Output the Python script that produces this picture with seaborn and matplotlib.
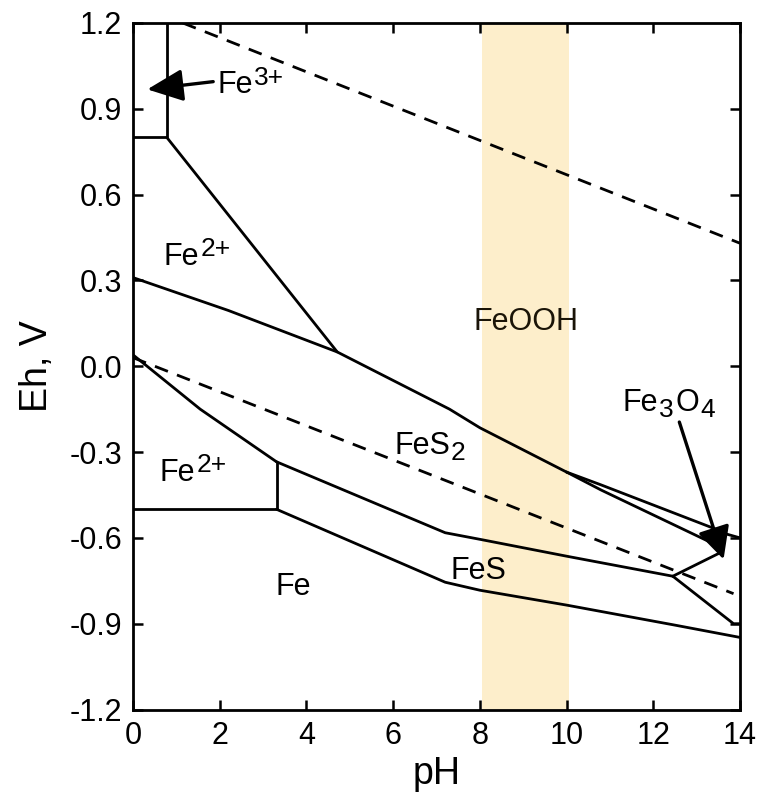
import matplotlib
matplotlib.use("Agg")
import matplotlib.pyplot as plt
import seaborn as sns
import pandas as pd

# ---------------- data (pH, Eh in V) ----------------
fe3_box_ph = [0.0, 0.78, 0.78]
fe3_box_eh = [0.80, 0.80, 1.20]

fe2_feooh_ph = [0.78, 4.71]
fe2_feooh_eh = [0.80, 0.05]

fes2_upper_ph = [0.0, 2.2, 4.71, 7.3, 8.0, 10.0]
fes2_upper_eh = [0.31, 0.195, 0.05, -0.15, -0.215, -0.37]

feooh_fe3o4_ph = [10.0, 10.8, 13.4, 13.65, 14.0]
feooh_fe3o4_eh = [-0.37, -0.415, -0.567, -0.585, -0.60]

fe3o4_fes2_ph = [10.0, 10.8, 13.3, 13.55]
fe3o4_fes2_eh = [-0.37, -0.433, -0.614, -0.632]

fe2_fes2_ph = [0.0, 1.55, 3.31]
fe2_fes2_eh = [0.04, -0.15, -0.334]

fe2_fe_vert_ph = [3.31, 3.31]
fe2_fe_vert_eh = [-0.334, -0.50]

fe2_fe_ph = [0.0, 3.31]
fe2_fe_eh = [-0.50, -0.50]

fes2_fes_ph = [3.31, 7.2, 8.0, 10.0, 12.45]
fes2_fes_eh = [-0.334, -0.582, -0.605, -0.664, -0.734]

fes_fe3o4_ph = [12.45, 13.5]
fes_fe3o4_eh = [-0.734, -0.655]

fes_fe_right_ph = [12.45, 13.85, 14.0]
fes_fe_right_eh = [-0.734, -0.90, -0.90]

fe_fes_ph = [3.31, 7.2, 8.0, 10.0, 12.5, 14.0]
fe_fes_eh = [-0.50, -0.755, -0.783, -0.835, -0.905, -0.948]

water_low_ph = [0.0, 13.85]
water_low_eh = [0.03, -0.795]
water_high_ph = [1.15, 14.0]
water_high_eh = [1.20, 0.43]

band_ph = [8.05, 10.05]

x_ticks = [0, 2, 4, 6, 8, 10, 12, 14]
y_ticks = [-1.2, -0.9, -0.6, -0.3, 0.0, 0.3, 0.6, 0.9, 1.2]
y_ticklabels = ["-1.2", "-0.9", "-0.6", "-0.3", "0.0", "0.3", "0.6", "0.9", "1.2"]

# label: (base text, script text, script kind, pH of left edge, Eh of baseline)
label_base = ["Fe", "Fe", "FeS", "FeS", "Fe", "Fe", "Fe"]
label_script = ["2+", "2+", "2", "", "", "3+", "3"]
label_kind = ["sup", "sup", "sub", "", "", "sup", "sub"]
label_ph = [0.70, 0.62, 6.03, 7.32, 3.28, 1.95, 11.3]
label_eh = [0.355, -0.40, -0.305, -0.745, -0.80, 0.955, -0.155]

feooh_text = "FeOOH"
feooh_pos = [9.06, 0.155]

fe3_tail = [1.85, 0.995]
fe3_tip = [0.33, 0.968]

fe3o4_tail = [12.6, -0.195]
fe3o4_tip = [13.62, -0.675]

# ---------------- style ----------------
sns.set_theme(style="white")
plt.rcParams["font.family"] = ["Liberation Sans", "DejaVu Sans"]
plt.rcParams["axes.unicode_minus"] = False
plt.rcParams["text.color"] = "black"
plt.rcParams["axes.labelcolor"] = "black"
plt.rcParams["xtick.color"] = "black"
plt.rcParams["ytick.color"] = "black"

fig = plt.figure(figsize=(7.63, 8.07), dpi=100)
ax = fig.add_axes([0.1743, 0.1208, 0.7956, 0.8507])

ax.axvspan(band_ph[0], band_ph[1], color="#fdeecb", zorder=0, lw=0)

LW = 2.0
solid = [
    (fe3_box_ph, fe3_box_eh), (fe2_feooh_ph, fe2_feooh_eh),
    (fes2_upper_ph, fes2_upper_eh), (feooh_fe3o4_ph, feooh_fe3o4_eh),
    (fe3o4_fes2_ph, fe3o4_fes2_eh), (fe2_fes2_ph, fe2_fes2_eh),
    (fe2_fe_vert_ph, fe2_fe_vert_eh), (fe2_fe_ph, fe2_fe_eh),
    (fes2_fes_ph, fes2_fes_eh), (fes_fe3o4_ph, fes_fe3o4_eh),
    (fes_fe_right_ph, fes_fe_right_eh), (fe_fes_ph, fe_fes_eh),
]
for xs, ys in solid:
    df = pd.DataFrame({"pH": xs, "Eh": ys})
    sns.lineplot(data=df, x="pH", y="Eh", sort=False, estimator=None,
                 color="black", lw=LW, ax=ax, zorder=3)

for xs, ys in [(water_low_ph, water_low_eh), (water_high_ph, water_high_eh)]:
    df = pd.DataFrame({"pH": xs, "Eh": ys})
    sns.lineplot(data=df, x="pH", y="Eh", sort=False, estimator=None,
                 color="black", lw=LW, ax=ax, zorder=3, dashes=False,
                 linestyle=(0, (5, 3.5)))

FS = 22
SFS = 19
for base, scr, kind, x, y in zip(label_base, label_script, label_kind, label_ph, label_eh):
    t = ax.text(x, y, base, ha="left", va="baseline", fontsize=FS, zorder=4)
    if kind == "sup":
        ax.annotate(scr, xy=(1.0, 0.0), xycoords=t, xytext=(1.0, 7.5),
                    textcoords="offset points", ha="left", va="bottom",
                    fontsize=SFS, zorder=4)
    elif kind == "sub":
        ax.annotate(scr, xy=(1.0, 0.0), xycoords=t, xytext=(0.5, -3.5),
                    textcoords="offset points", ha="left", va="bottom",
                    fontsize=SFS, zorder=4)
        if base == "Fe":
            t2 = ax.annotate("O", xy=(1.0, 0.0), xycoords=t, xytext=(12.5, 0),
                             textcoords="offset points", ha="left", va="bottom",
                             fontsize=FS, zorder=4)
            ax.annotate("4", xy=(1.0, 0.0), xycoords=t2, xytext=(0.5, -3.5),
                        textcoords="offset points", ha="left", va="bottom",
                        fontsize=SFS, zorder=4)

ax.text(feooh_pos[0], feooh_pos[1], feooh_text, ha="center", va="center",
        fontsize=22, color="#1a1408", zorder=4)

ax.annotate("", xy=fe3_tip, xytext=fe3_tail, zorder=5,
            arrowprops=dict(arrowstyle="-|>,head_length=1.0,head_width=0.45",
                            mutation_scale=22, color="black", lw=2.4,
                            shrinkA=0, shrinkB=0))
ax.annotate("", xy=fe3o4_tip, xytext=fe3o4_tail, zorder=5,
            arrowprops=dict(arrowstyle="-|>,head_length=0.9,head_width=0.45",
                            mutation_scale=22, color="black", lw=2.4,
                            shrinkA=0, shrinkB=0))

ax.set_xlim(0, 14)
ax.set_ylim(-1.2, 1.2)
ax.set_xticks(x_ticks)
ax.set_xticklabels([str(v) for v in x_ticks])
ax.set_yticks(y_ticks)
ax.set_yticklabels(y_ticklabels)
ax.tick_params(direction="in", length=7, width=1.8, labelsize=22,
               top=True, right=True, bottom=True, left=True, pad=8)
for s in ax.spines.values():
    s.set_visible(True)
    s.set_color("black")
    s.set_linewidth(2.0)
ax.set_xlabel("pH", fontsize=27, labelpad=4)
ax.set_ylabel("Eh, V", fontsize=27, labelpad=10)
ax.grid(False)

fig.savefig("out.png", dpi=100)
